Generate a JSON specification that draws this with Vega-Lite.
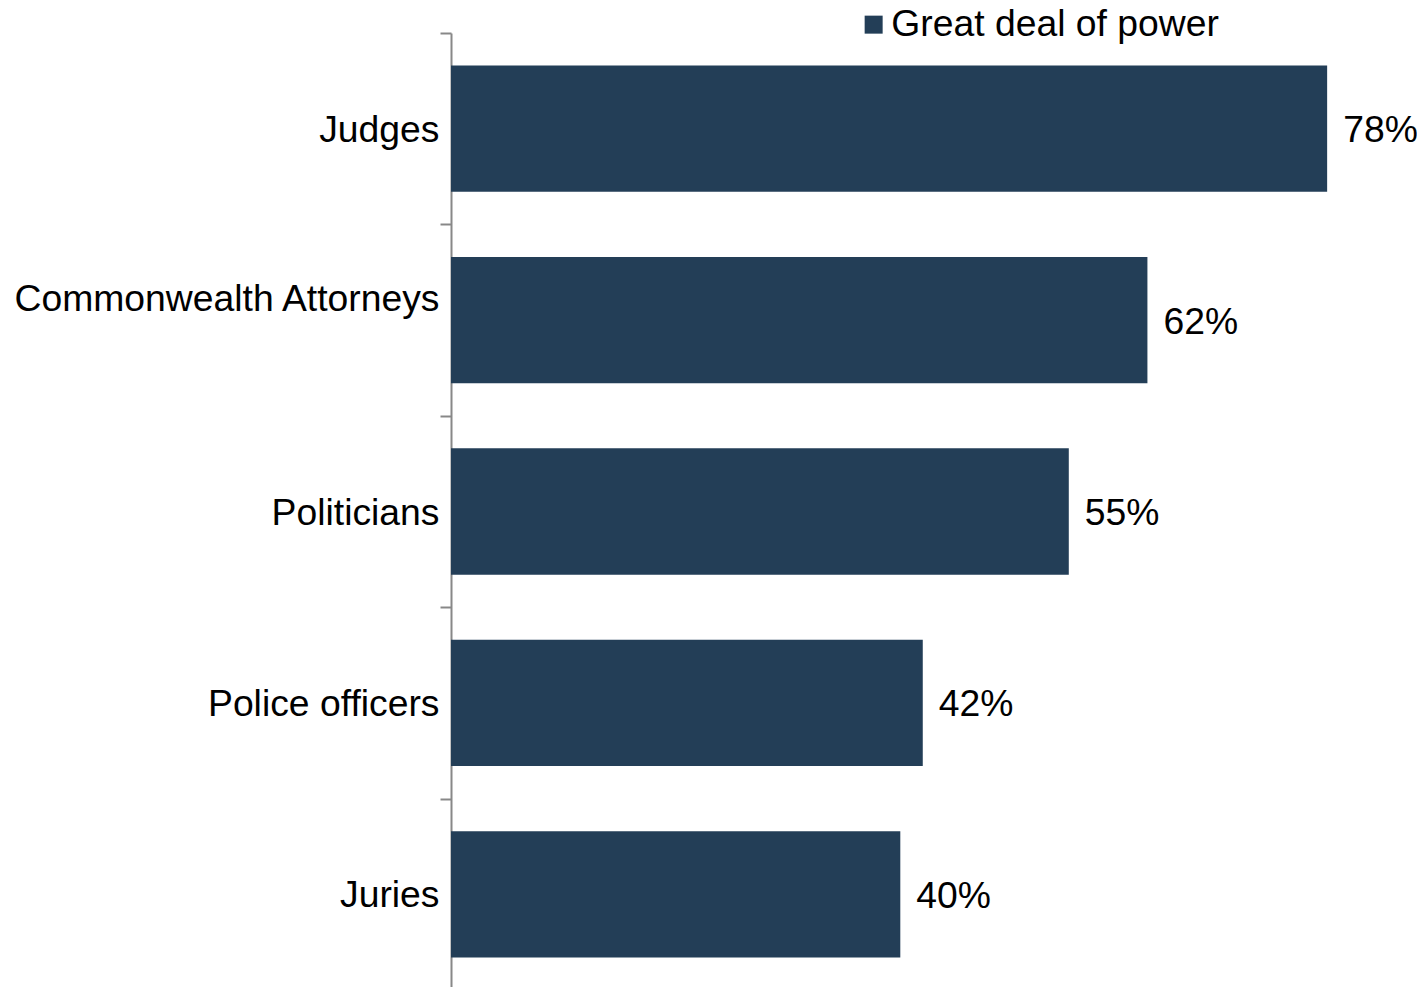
{
  "$schema": "https://vega.github.io/schema/vega-lite/v6.json",
  "autosize": {"type": "none"},
  "padding": {"left": 451, "top": 33, "right": 0, "bottom": 0},
  "width": 966,
  "height": 957,
  "background": "white",
  "config": {"view": {"stroke": null}, "font": "Liberation Sans"},
  "data": {"values": [
    {"category": "Judges", "value": 0.78, "series": "Great deal of power"},
    {"category": "Commonwealth Attorneys", "value": 0.62, "series": "Great deal of power"},
    {"category": "Politicians", "value": 0.55, "series": "Great deal of power"},
    {"category": "Police officers", "value": 0.42, "series": "Great deal of power"},
    {"category": "Juries", "value": 0.40, "series": "Great deal of power"}
  ]},
  "encoding": {
    "y": {
      "field": "category", "type": "nominal", "sort": null,
      "scale": {"paddingInner": 0, "paddingOuter": 0},
      "axis": {
        "title": null, "tickBand": "extent", "domainColor": "#888888", "domainWidth": 2,
        "tickColor": "#888888", "tickWidth": 2, "tickSize": 11,
        "labelFont": "Liberation Sans", "labelFontSize": 37.3, "labelColor": "#000000",
        "labelPadding": 1, "labelLimit": 0,
        "labelOffset": {"condition": {"test": "datum.value === 'Commonwealth Attorneys'", "value": -21}, "value": 1.5}
      }
    },
    "x": {
      "field": "value", "type": "quantitative",
      "scale": {"domain": [0, 0.86], "nice": false, "zero": true},
      "axis": null
    }
  },
  "layer": [
    {
      "mark": {"type": "bar", "color": "#233E57", "height": {"band": 0.66}},
      "encoding": {
        "color": {
          "field": "series", "type": "nominal",
          "scale": {"range": ["#233E57"]},
          "legend": {
            "title": null, "orient": "none", "legendX": 404, "legendY": -27,
            "symbolType": "square", "symbolSize": 324, "symbolStrokeWidth": 0,
            "symbolFillColor": "#233E57", "symbolOpacity": 1,
            "labelFont": "Liberation Sans", "labelFontSize": 37.3, "labelColor": "#000000",
            "labelOffset": -1, "padding": 0, "labelLimit": 0
          }
        }
      }
    },
    {
      "mark": {"type": "text", "align": "left", "baseline": "middle", "dx": 16, "dy": 2.5, "fontSize": 37.3, "font": "Liberation Sans", "color": "#000000"},
      "encoding": {
        "text": {"field": "value", "type": "quantitative", "format": ".0%"},
        "color": {"value": "#000000"}
      }
    }
  ]
}
